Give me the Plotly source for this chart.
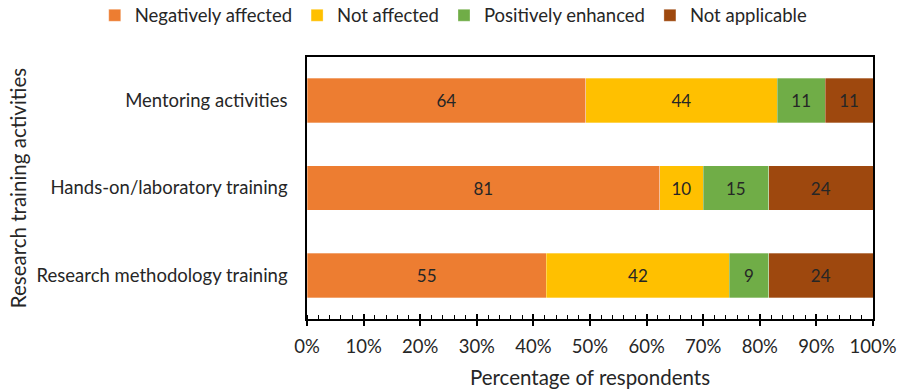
import plotly.graph_objects as go

# Survey counts per research training activity (shares computed via barnorm)
activities = ["Research methodology training", "Hands-on/laboratory training", "Mentoring activities"]
negatively_affected = [55, 81, 64]
not_affected = [42, 10, 44]
positively_enhanced = [9, 15, 11]
not_applicable = [24, 24, 11]

series_names = ["Negatively affected", "Not affected", "Positively enhanced", "Not applicable"]
series_values = [negatively_affected, not_affected, positively_enhanced, not_applicable]
series_colors = ["#ED7D31", "#FFC000", "#70AD47", "#9E480E"]

tick_values = list(range(0, 101, 10))
tick_labels = [f"{v}%" for v in tick_values]

FONT = "Lato, Carlito, Calibri, sans-serif"
TEXT = "#262626"

fig = go.Figure()
for name, vals, color in zip(series_names, series_values, series_colors):
    fig.add_trace(go.Bar(
        y=activities,
        x=vals,
        name=name,
        orientation="h",
        marker=dict(color=color, line=dict(color="rgba(255,255,255,0.6)", width=0.5)),
        text=[str(v) for v in vals],
        textposition="inside",
        insidetextanchor="middle",
        textangle=0,
        textfont=dict(family=FONT, size=17, color=TEXT),
        width=0.51,
    ))

# invisible trace to carry the inward-facing half of the major ticks
fig.add_trace(go.Scatter(x=[0, 100], y=[activities[0], activities[0]], xaxis="x2",
                         mode="markers", marker=dict(opacity=0), showlegend=False,
                         hoverinfo="skip"))

fig.update_layout(
    barmode="stack",
    barnorm="percent",
    width=901,
    height=391,
    margin=dict(l=307, r=28, t=57, b=72, autoexpand=False),
    paper_bgcolor="white",
    plot_bgcolor="white",
    font=dict(family=FONT, color=TEXT),
    legend=dict(
        orientation="h",
        x=-0.375, xanchor="left", xref="paper",
        y=1.085, yanchor="bottom", yref="paper",
        font=dict(size=18.5, color=TEXT),
        itemwidth=30,
        traceorder="normal",
    ),
    xaxis=dict(
        range=[0, 100],
        tickvals=tick_values,
        ticktext=tick_labels,
        ticks="outside",
        ticklen=5,
        tickwidth=1.5,
        tickcolor="black",
        minor=dict(dtick=2, ticks="inside", ticklen=4, tickcolor="black", tickwidth=1),
        showline=True,
        linecolor="black",
        linewidth=1.5,
        mirror=True,
        showgrid=False,
        zeroline=False,
        tickfont=dict(size=18.5, color=TEXT),
        ticklabelstandoff=5,
        title=dict(text="Percentage of respondents", font=dict(size=20.5, color=TEXT), standoff=15),
        fixedrange=True,
    ),
    xaxis2=dict(
        overlaying="x",
        anchor="y",
        side="bottom",
        range=[0, 100],
        tickvals=tick_values,
        ticks="inside",
        ticklen=5,
        tickwidth=1.5,
        tickcolor="black",
        showticklabels=False,
        showgrid=False,
        zeroline=False,
        showline=False,
    ),
    yaxis=dict(
        showline=True,
        linecolor="black",
        linewidth=1.5,
        mirror=True,
        ticks="",
        showgrid=False,
        tickfont=dict(size=18.5, color=TEXT),
        ticklabelstandoff=14,
        title=dict(text="Research training activities", font=dict(size=20.5, color=TEXT), standoff=4),
        range=[-0.5, 2.5],
    ),
)

fig.write_html("out.html")
